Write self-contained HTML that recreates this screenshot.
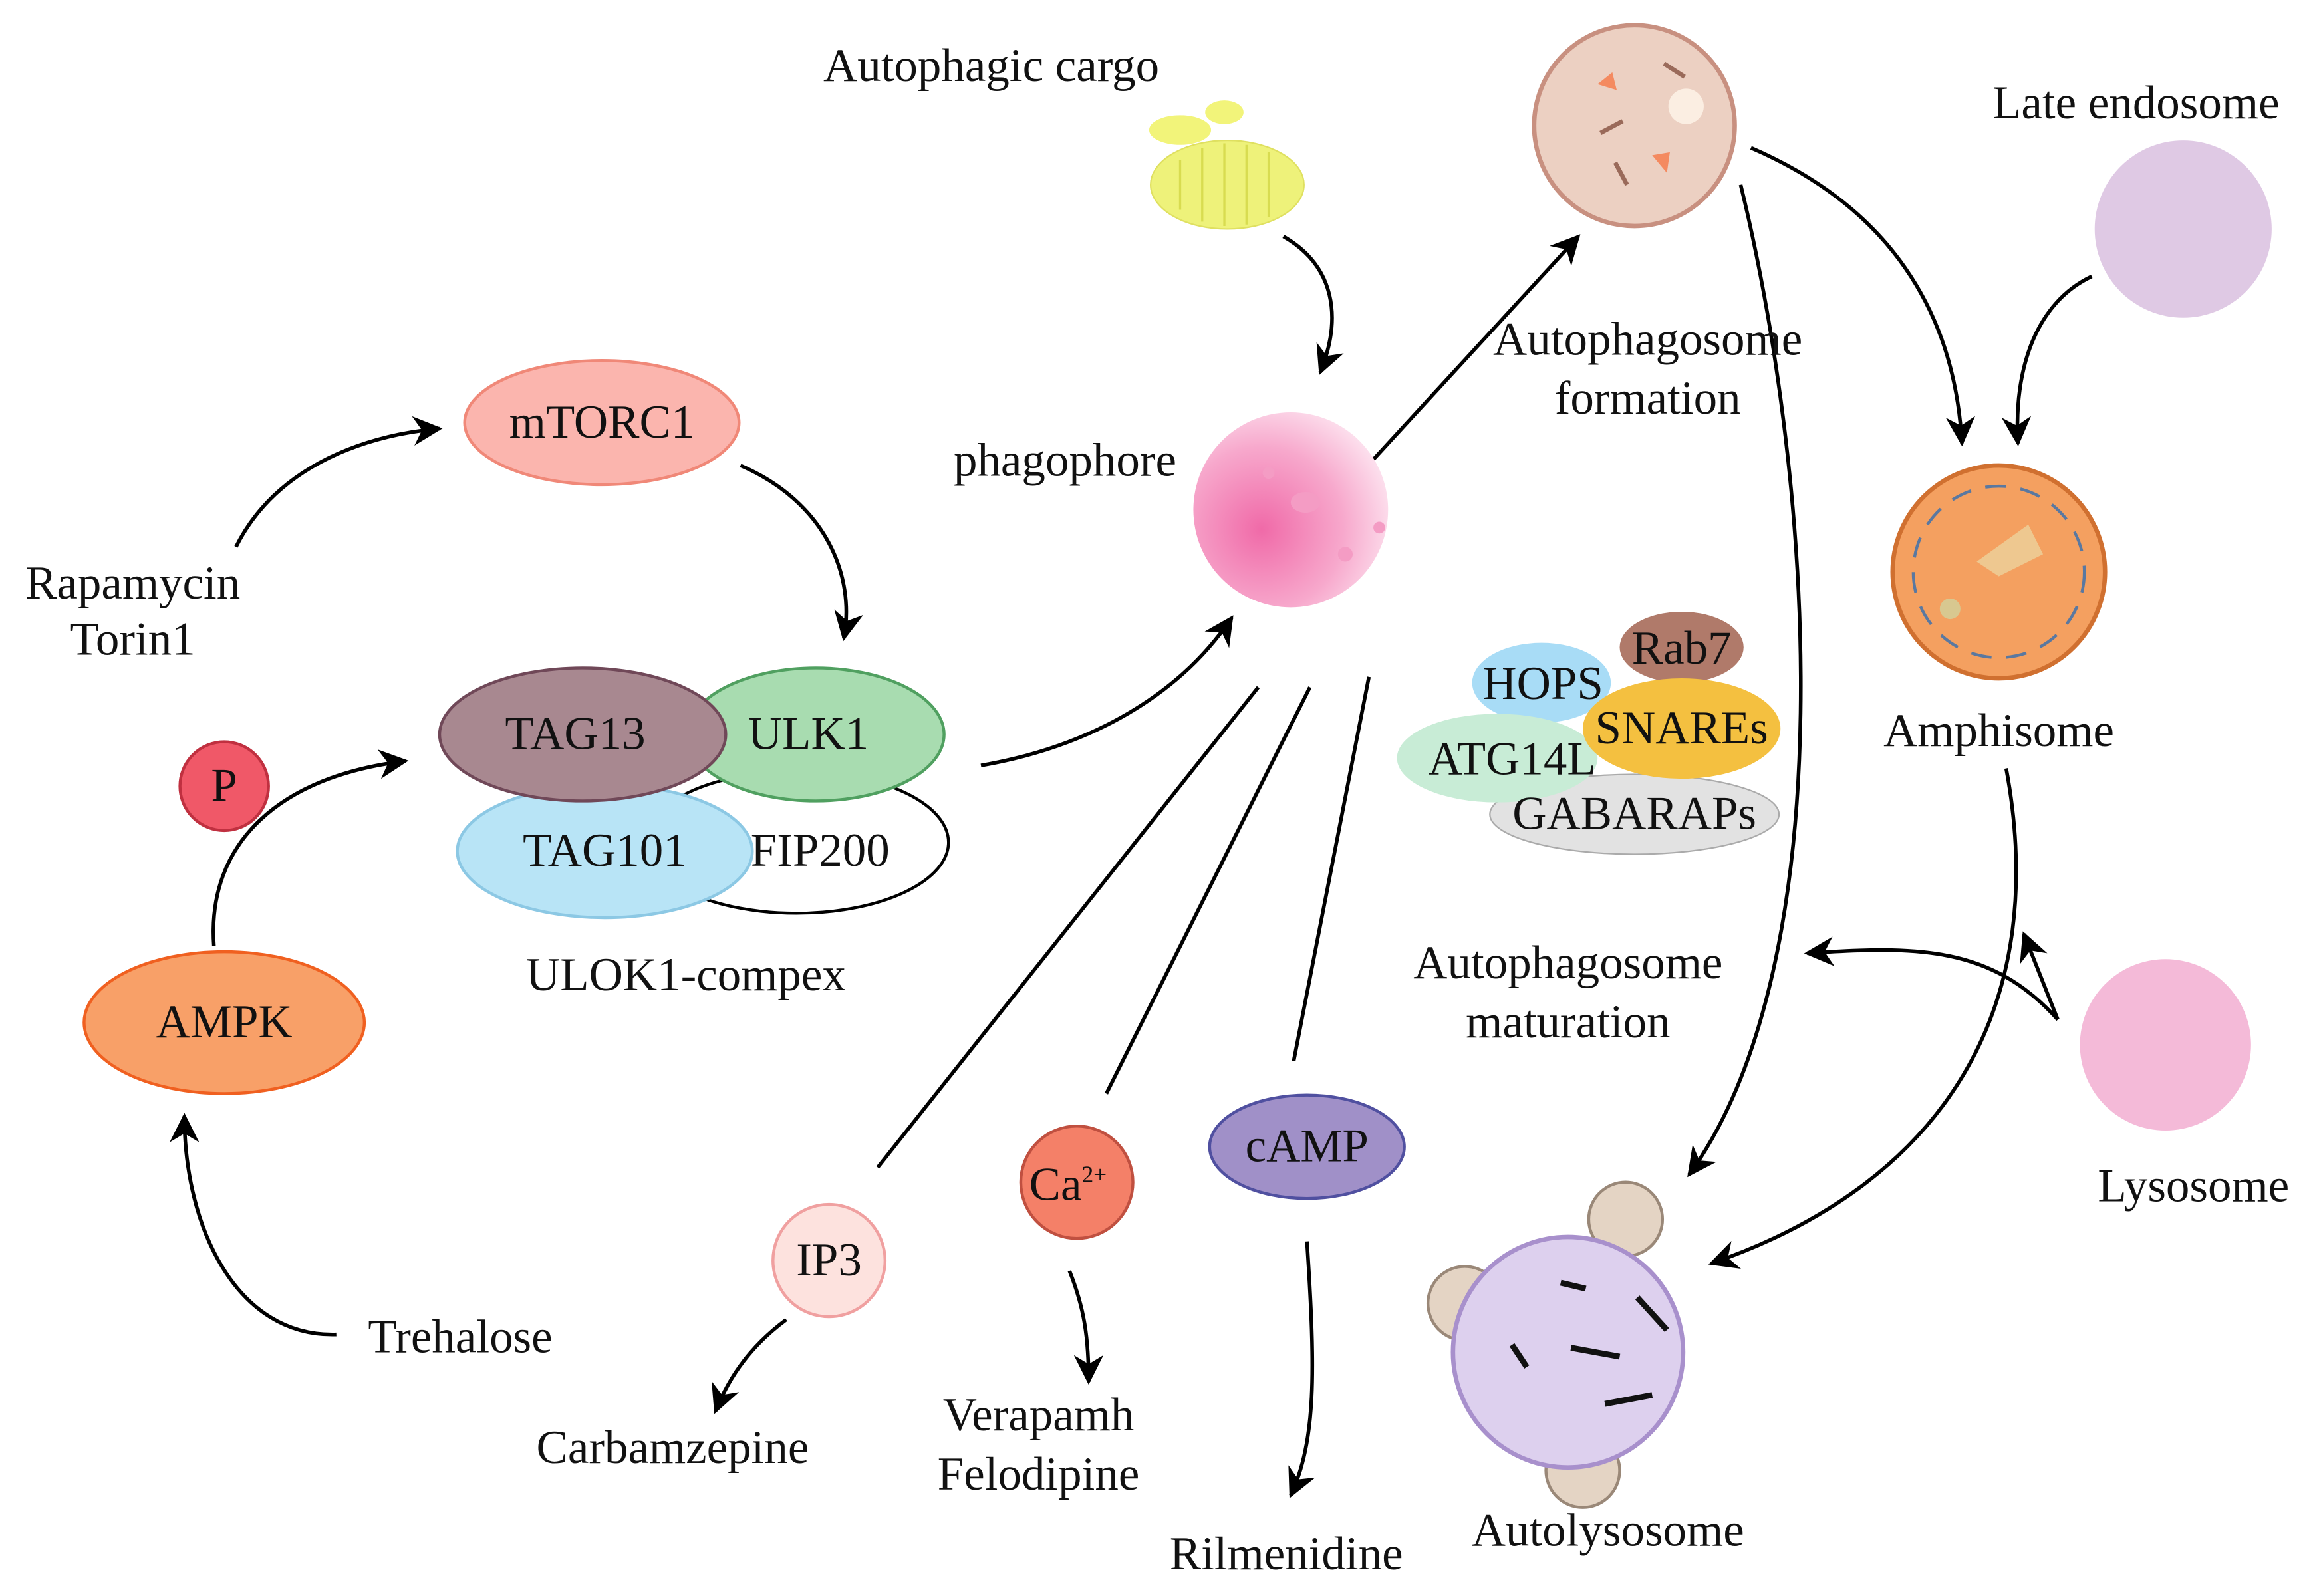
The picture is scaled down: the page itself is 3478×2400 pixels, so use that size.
<!DOCTYPE html>
<html><head><meta charset="utf-8"><style>
html,body{margin:0;padding:0;background:#fff;}
svg{display:block;}
text{font-family:"Liberation Serif",serif;font-size:32px;fill:#111;text-anchor:middle;}
</style></head><body>
<svg width="3478" height="2400" viewBox="0 0 1568 1080" preserveAspectRatio="none" xmlns="http://www.w3.org/2000/svg">
<defs>
<marker id="b" viewBox="0 0 10 10" refX="9" refY="5" markerWidth="20" markerHeight="20" orient="auto" markerUnits="userSpaceOnUse">
<path d="M0,0 L10,5 L0,10 L3,5 Z" fill="#000"/></marker>
<radialGradient id="ph" cx="0.35" cy="0.6" r="0.7">
<stop offset="0" stop-color="#f06aa8"/><stop offset="0.6" stop-color="#f7a8cc"/><stop offset="1" stop-color="#fde4f0"/></radialGradient>
</defs>
<g fill="none" stroke="#000" stroke-width="2.5">
<path d="M870,160 C905,180 910,215 895,252" marker-end="url(#b)"/>
<path d="M930,312 L1070,160" marker-end="url(#b)"/>
<path d="M1187,100 C1280,140 1325,210 1330,300" marker-end="url(#b)"/>
<path d="M1418,187 C1380,205 1365,250 1368,300" marker-end="url(#b)"/>
<path d="M1180,125 C1230,330 1250,650 1145,795" marker-end="url(#b)"/>
<path d="M1360,520 C1390,680 1320,800 1160,855" marker-end="url(#b)"/>
<path d="M1395,690 C1350,640 1300,640 1225,645" marker-end="url(#b)"/>
<path d="M1395,690 L1372,632" marker-end="url(#b)"/>
<path d="M160,370 C185,320 240,295 298,290" marker-end="url(#b)"/>
<path d="M502,315 C560,340 580,390 572,432" marker-end="url(#b)"/>
<path d="M145,640 C140,570 190,525 275,515" marker-end="url(#b)"/>
<path d="M228,903 C160,905 125,830 125,755" marker-end="url(#b)"/>
<path d="M665,518 C740,505 800,470 835,418" marker-end="url(#b)"/>
<path d="M853,465 L595,790"/>
<path d="M888,465 L750,740"/>
<path d="M928,458 L877,718"/>
<path d="M533,893 C510,910 495,930 485,955" marker-end="url(#b)"/>
<path d="M725,860 C735,885 738,905 738,935" marker-end="url(#b)"/>
<path d="M886,840 C892,930 892,975 875,1012" marker-end="url(#b)"/>
</g>
<ellipse cx="832" cy="125" rx="52" ry="30" fill="#eef27a" stroke="#dfe060"/>
<g stroke="#d8dc50" stroke-width="1.5"><line x1="800" y1="108" x2="800" y2="142"/><line x1="815" y1="100" x2="815" y2="150"/><line x1="830" y1="97" x2="830" y2="153"/><line x1="845" y1="98" x2="845" y2="152"/><line x1="860" y1="103" x2="860" y2="147"/></g>
<ellipse cx="800" cy="88" rx="21" ry="10" fill="#f2f47a"/>
<ellipse cx="830" cy="76" rx="13" ry="8" fill="#f2f47a"/>
<circle cx="875" cy="345" r="66" fill="url(#ph)"/>
<ellipse cx="885" cy="340" rx="10" ry="7" fill="#f49cc4"/><circle cx="912" cy="375" r="5" fill="#f49cc4"/><circle cx="935" cy="357" r="4" fill="#f49cc4"/><circle cx="860" cy="320" r="4" fill="#f49cc4"/>
<circle cx="1108" cy="85" r="68" fill="#ecd0c2" stroke="#c89080" stroke-width="3"/>
<path d="M1083,57 l10,-8 l3,12z M1120,105 l12,-2 l-2,14z" fill="#f48a60"/>
<circle cx="1143" cy="72" r="12" fill="#fbeee2"/>
<g stroke="#9a6a5a" stroke-width="3"><line x1="1128" y1="43" x2="1142" y2="52"/><line x1="1085" y1="90" x2="1100" y2="82"/><line x1="1095" y1="110" x2="1103" y2="125"/></g>
<circle cx="1480" cy="155" r="60" fill="#dfc9e4"/>
<circle cx="1355" cy="387" r="72" fill="#f4a060" stroke="#d07030" stroke-width="3"/>
<circle cx="1355" cy="387" r="58" fill="none" stroke="#5a78a0" stroke-width="2" stroke-dasharray="14 10"/>
<path d="M1340,380 l35,-25 l10,20 l-30,15z" fill="#eec890"/><circle cx="1322" cy="412" r="7" fill="#d8c890"/>
<ellipse cx="1140" cy="438" rx="42" ry="24" fill="#b07a6a"/>
<ellipse cx="1045" cy="462" rx="47" ry="27" fill="#a8dcf6"/>
<ellipse cx="1108" cy="551" rx="98" ry="27" fill="#e2e2e2" stroke="#aaa"/>
<ellipse cx="1015" cy="513" rx="68" ry="30" fill="#c8ecd6"/>
<ellipse cx="1140" cy="493" rx="67" ry="34" fill="#f4c040"/>
<circle cx="1468" cy="707" r="58" fill="#f4bad8"/>
<circle cx="1102" cy="825" r="25" fill="#e4d4c4" stroke="#9a8878" stroke-width="2"/>
<circle cx="993" cy="882" r="25" fill="#e4d4c4" stroke="#9a8878" stroke-width="2"/>
<circle cx="1073" cy="995" r="25" fill="#e4d4c4" stroke="#9a8878" stroke-width="2"/>
<circle cx="1063" cy="915" r="78" fill="#ddd0ee" stroke="#a890cc" stroke-width="3"/>
<g stroke="#111" stroke-width="4"><line x1="1058" y1="868" x2="1075" y2="872"/><line x1="1110" y1="878" x2="1130" y2="900"/><line x1="1025" y1="910" x2="1035" y2="925"/><line x1="1065" y1="912" x2="1098" y2="918"/><line x1="1088" y1="950" x2="1120" y2="944"/></g>
<ellipse cx="408" cy="286" rx="93" ry="42" fill="#fbb5ae" stroke="#f08878" stroke-width="2"/>
<ellipse cx="540" cy="570" rx="103" ry="48" fill="#fff" stroke="#000" stroke-width="2"/>
<ellipse cx="410" cy="576" rx="100" ry="45" fill="#b8e4f6" stroke="#8cc8e4" stroke-width="2"/>
<ellipse cx="553" cy="497" rx="87" ry="45" fill="#a8dcb0" stroke="#50a060" stroke-width="2"/>
<ellipse cx="395" cy="497" rx="97" ry="45" fill="#a88890" stroke="#704858" stroke-width="2"/>
<circle cx="152" cy="532" r="30" fill="#f05868" stroke="#c03040" stroke-width="2"/>
<ellipse cx="152" cy="692" rx="95" ry="48" fill="#f8a068" stroke="#f06020" stroke-width="2"/>
<circle cx="562" cy="853" r="38" fill="#fde2de" stroke="#f0a0a0" stroke-width="2"/>
<circle cx="730" cy="800" r="38" fill="#f48068" stroke="#c05040" stroke-width="2"/>
<ellipse cx="886" cy="776" rx="66" ry="35" fill="#a090c8" stroke="#5050a0" stroke-width="2"/>
<text x="672" y="55">Autophagic cargo</text>
<text x="722" y="322">phagophore</text>
<text x="1117" y="240">Autophagosome</text>
<text x="1117" y="280">formation</text>
<text x="1448" y="80">Late endosome</text>
<text x="1355" y="505">Amphisome</text>
<text x="1140" y="449" font-size="29">Rab7</text>
<text x="1046" y="473" font-size="29">HOPS</text>
<text x="1140" y="503" font-size="29">SNAREs</text>
<text x="1025" y="524" font-size="29">ATG14L</text>
<text x="1108" y="561" font-size="29">GABARAPs</text>
<text x="1063" y="662">Autophagosome</text>
<text x="1063" y="702">maturation</text>
<text x="1487" y="813">Lysosome</text>
<text x="1090" y="1046">Autolysosome</text>
<text x="408" y="296">mTORC1</text>
<text x="90" y="405">Rapamycin</text>
<text x="90" y="443">Torin1</text>
<text x="390" y="507">TAG13</text>
<text x="548" y="507">ULK1</text>
<text x="410" y="586">TAG101</text>
<text x="556" y="586">FIP200</text>
<text x="465" y="670">ULOK1-compex</text>
<text x="152" y="542">P</text>
<text x="152" y="702">AMPK</text>
<text x="312" y="915">Trehalose</text>
<text x="562" y="863">IP3</text>
<text x="456" y="990">Carbamzepine</text>
<text x="724" y="812">Ca<tspan font-size="16" dy="-12">2+</tspan></text>
<text x="704" y="968">Verapamh</text>
<text x="704" y="1008">Felodipine</text>
<text x="886" y="786">cAMP</text>
<text x="872" y="1062">Rilmenidine</text>
</svg>
</body></html>
